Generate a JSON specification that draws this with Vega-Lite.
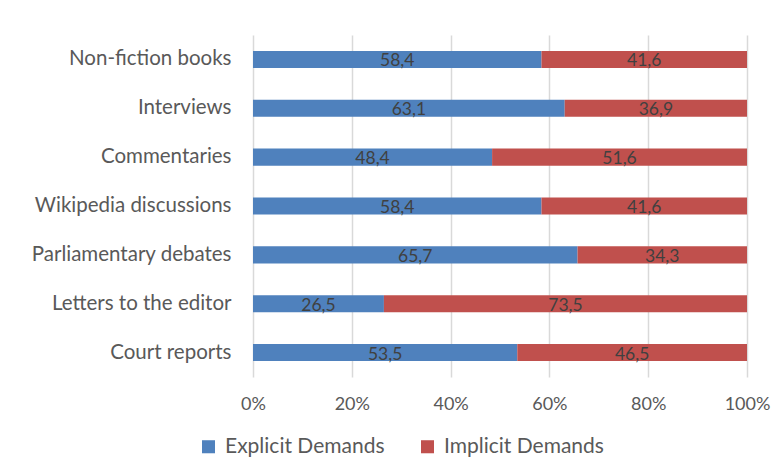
{
  "$schema": "https://vega.github.io/schema/vega-lite/v6.json",
  "autosize": {"type": "none"},
  "width": 494,
  "height": 342,
  "padding": {"left": 253, "top": 35, "right": 33, "bottom": 99},
  "background": "white",
  "config": {
    "view": {"stroke": null},
    "font": "Lato",
    "locale": {"number": {"decimal": ",", "thousands": ".", "grouping": [3], "currency": ["", " €"]}}
  },
  "data": {
    "values": [
      {"source": "Non-fiction books", "type": "Explicit Demands", "value": 58.4},
      {"source": "Non-fiction books", "type": "Implicit Demands", "value": 41.6},
      {"source": "Interviews", "type": "Explicit Demands", "value": 63.1},
      {"source": "Interviews", "type": "Implicit Demands", "value": 36.9},
      {"source": "Commentaries", "type": "Explicit Demands", "value": 48.4},
      {"source": "Commentaries", "type": "Implicit Demands", "value": 51.6},
      {"source": "Wikipedia discussions", "type": "Explicit Demands", "value": 58.4},
      {"source": "Wikipedia discussions", "type": "Implicit Demands", "value": 41.6},
      {"source": "Parliamentary debates", "type": "Explicit Demands", "value": 65.7},
      {"source": "Parliamentary debates", "type": "Implicit Demands", "value": 34.3},
      {"source": "Letters to the editor", "type": "Explicit Demands", "value": 26.5},
      {"source": "Letters to the editor", "type": "Implicit Demands", "value": 73.5},
      {"source": "Court reports", "type": "Explicit Demands", "value": 53.5},
      {"source": "Court reports", "type": "Implicit Demands", "value": 46.5}
    ]
  },
  "encoding": {
    "y": {
      "field": "source", "type": "nominal", "sort": null,
      "scale": {"paddingInner": 0.65, "paddingOuter": 0.325},
      "axis": {"title": null, "domain": false, "ticks": false, "labelFontSize": 20.5, "labelColor": "#595959", "labelPadding": 22, "labelLimit": 0, "labelFont": "Lato"}
    },
    "x": {
      "field": "value", "type": "quantitative", "stack": "normalize",
      "scale": {"domain": [0, 1]},
      "axis": {"title": null, "format": "%", "values": [0, 0.2, 0.4, 0.6, 0.8, 1], "labelOverlap": false, "labelBound": false, "labelFlush": false, "domain": false, "ticks": false, "grid": true, "gridColor": "#d9d9d9", "gridWidth": 1.5, "labelFontSize": 18, "labelColor": "#595959", "labelPadding": 18}
    },
    "order": {"field": "type", "sort": "ascending"}
  },
  "layer": [
    {
      "mark": {"type": "bar"},
      "encoding": {
        "color": {
          "field": "type", "type": "nominal",
          "scale": {"domain": ["Explicit Demands", "Implicit Demands"], "range": ["#4f81bd", "#c0504d"]},
          "legend": {"title": null, "orient": "none", "direction": "horizontal", "legendX": -55, "legendY": 401, "symbolType": "square", "symbolSize": 170, "symbolStrokeWidth": 0, "symbolOpacity": 1, "labelFontSize": 21, "labelColor": "#595959", "columnPadding": 32, "labelOffset": 6}
        }
      }
    },
    {
      "mark": {"type": "text", "fontSize": 17.5, "color": "#404040", "dy": 2},
      "encoding": {
        "x": {"field": "value", "type": "quantitative", "stack": "normalize", "bandPosition": 0.5},
        "text": {"field": "value", "type": "quantitative", "format": ".1f"}
      }
    }
  ]
}
